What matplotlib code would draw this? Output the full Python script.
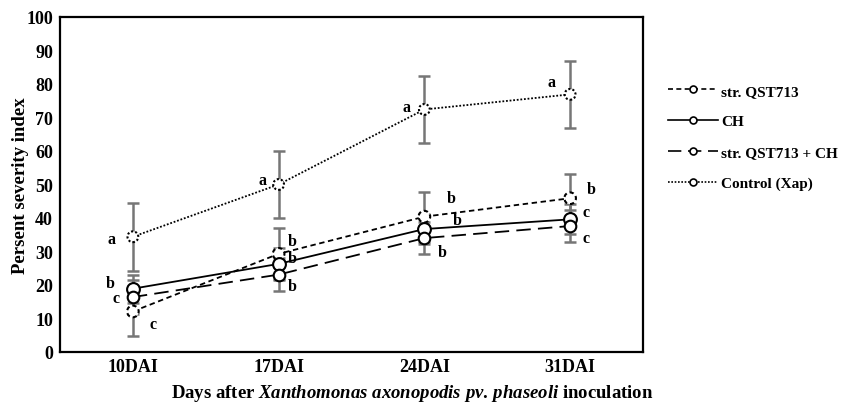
import matplotlib
matplotlib.use("Agg")
import matplotlib.pyplot as plt
from matplotlib.lines import Line2D
import numpy as np

days = ['10DAI', '17DAI', '24DAI', '31DAI']
series_names = ['str. QST713', 'CH', 'str. QST713 + CH', 'Control (Xap)']
qst = [12.1, 29.3, 40.4, 45.9]
qst_err = [7.4, 7.6, 7.5, 7.2]
ch = [18.9, 26.3, 36.7, 39.6]
ch_err = [4.2, 4.7, 4.5, 4.5]
combo = [16.4, 23.1, 34.0, 37.6]
combo_err = [5.0, 5.0, 4.8, 4.9]
control = [34.4, 50.0, 72.4, 76.9]
control_err = [10.1, 10.0, 10.0, 10.0]

letters_qst = ['c', 'b', 'b', 'b']
letters_ch = ['b', 'b', 'b', 'c']
letters_combo = ['c', 'b', 'b', 'c']
letters_control = ['a', 'a', 'a', 'a']

plt.rcParams['font.family'] = ['Liberation Serif', 'DejaVu Serif']
plt.rcParams['font.weight'] = 'bold'
plt.rcParams['mathtext.fontset'] = 'custom'
plt.rcParams['mathtext.it'] = 'Liberation Serif:bold:italic'
plt.rcParams['mathtext.rm'] = 'Liberation Serif:bold'
plt.rcParams['mathtext.bf'] = 'Liberation Serif:bold'

fig = plt.figure(figsize=(8.41, 4.06), dpi=100)
ax = fig.add_axes([60/841, 1-353/406, (643-60)/841, (353-18)/406])

x = np.arange(len(days))
data = [qst, ch, combo, control]
errs = [qst_err, ch_err, combo_err, control_err]
letters = [letters_qst, letters_ch, letters_combo, letters_control]
lstyles = [(0, (3, 2)), '-', (0, (8, 4)), (0, (1, 1))]
mstyles = [(0, (2, 1.5)), '-', '-', (0, (1, 1))]
msizes = [70, 85, 70, 60]
# letter offsets in pixels per series and day
offsets = [
    [(20, -12.5), (14, 13), (27, 19), (21, 9)],
    [(-23, 6), (14, 6), (33, 9), (16, 7)],
    [(-17, -1), (14, -11), (18, -14), (16, -12)],
    [(-21, -2), (-16, 4), (-18, 2.5), (-19, 12)],
]

for y, e in zip(data, errs):
    ax.errorbar(x, y, yerr=e, fmt='none', ecolor='#767676', elinewidth=1.8,
                capsize=4, capthick=1.8, zorder=1)

for i, (y, ls) in enumerate(zip(data, lstyles)):
    ax.plot(x, y, color='black', lw=1.3, linestyle=ls, zorder=2)
    ax.scatter(x, y, s=msizes[i], facecolor='white', edgecolor='black',
               linewidths=1.5, linestyles=[mstyles[i]], zorder=3)
    for j in range(len(x)):
        ax.annotate(letters[i][j], (x[j], y[j]), xytext=offsets[i][j],
                    textcoords='offset pixels', ha='center', va='center',
                    fontsize=11.5, fontweight='bold', zorder=4)

ax.set_xlim(-0.5, 3.5)
ax.set_ylim(0, 100)
ax.set_yticks(np.arange(0, 101, 10))
ax.set_xticks(x)
ax.set_xticklabels(days)
ax.tick_params(axis='y', length=0, labelsize=13, pad=5)
ax.tick_params(axis='x', length=0, labelsize=13, pad=4)
for lab in ax.get_xticklabels() + ax.get_yticklabels():
    lab.set_fontweight('bold')
for sp in ax.spines.values():
    sp.set_linewidth(1.6)
ax.set_ylabel('Persent severity index', fontsize=13.5, fontweight='bold')
ax.yaxis.set_label_coords((29 - 60) / 583, 0.5)

fig.text(412/841, 1-394/406,
         r'Days after $\it{Xanthomonas\ axonopodis\ pv.\,phaseoli}$ inoculation',
         ha='center', va='center', fontsize=13.5, fontweight='bold')

handles = [Line2D([0], [0], color='black', lw=1.2, linestyle=ls, marker='o',
                  markersize=5, markerfacecolor='white', markeredgecolor='black',
                  markeredgewidth=1.2)
           for ls in lstyles]
fig.legend(handles, series_names, loc='upper left',
           bbox_to_anchor=(668/841, 1-85/406), frameon=False,
           handlelength=3.3, handletextpad=0.2, labelspacing=1.12, borderpad=0,
           borderaxespad=0, prop={'weight': 'bold', 'size': 11})

fig.savefig('out.png', dpi=100)
